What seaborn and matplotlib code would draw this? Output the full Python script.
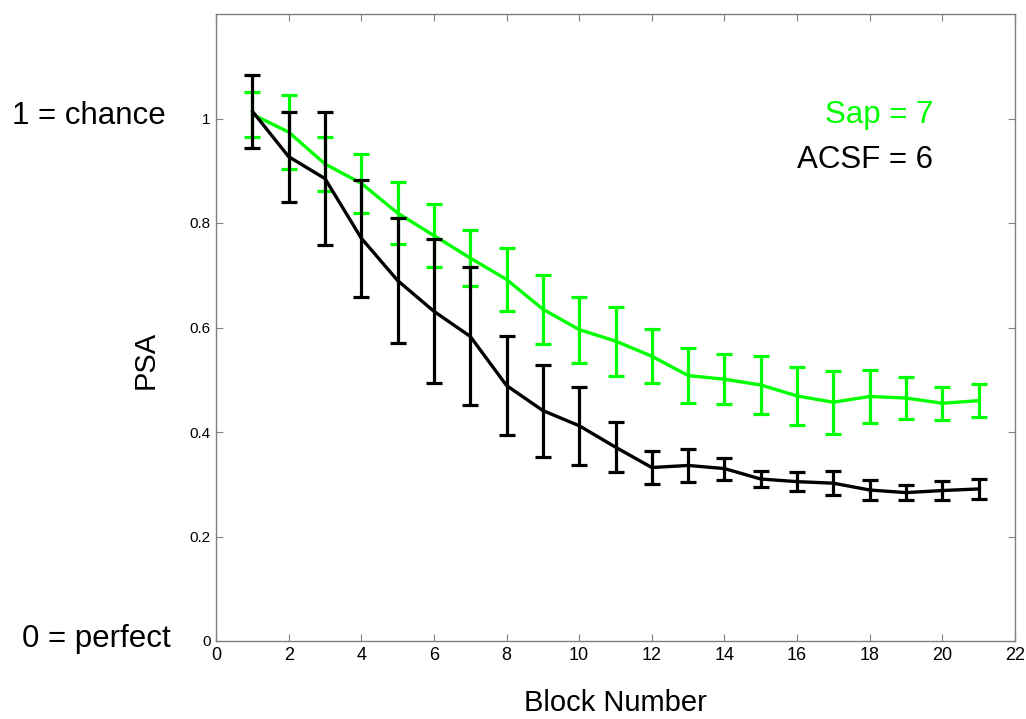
import matplotlib
matplotlib.use("Agg")
import matplotlib.pyplot as plt
import seaborn as sns
import numpy as np
import pandas as pd

# Block-by-block PSA (mean and SEM) for each group
blocks = list(range(1, 22))

sap_mean = [1.008, 0.974, 0.913, 0.876, 0.819, 0.776, 0.733, 0.692, 0.635, 0.596,
            0.574, 0.545, 0.508, 0.501, 0.490, 0.469, 0.457, 0.468, 0.465, 0.455, 0.460]
sap_sem = [0.043, 0.071, 0.051, 0.057, 0.060, 0.060, 0.054, 0.060, 0.066, 0.063,
           0.066, 0.052, 0.052, 0.048, 0.056, 0.055, 0.060, 0.051, 0.041, 0.032, 0.032]

acsf_mean = [1.014, 0.927, 0.885, 0.771, 0.690, 0.631, 0.583, 0.489, 0.441, 0.412,
             0.371, 0.332, 0.336, 0.330, 0.310, 0.305, 0.302, 0.289, 0.284, 0.288, 0.291]
acsf_sem = [0.070, 0.086, 0.128, 0.112, 0.119, 0.138, 0.132, 0.095, 0.088, 0.075,
            0.048, 0.031, 0.032, 0.021, 0.016, 0.018, 0.023, 0.020, 0.015, 0.019, 0.020]

group_labels = ["Sap = 7", "ACSF = 6"]
x_ticks = list(range(0, 23, 2))
y_ticks = [0, 0.2, 0.4, 0.6, 0.8, 1]

GREEN = "#00ff00"
BLACK = "#000000"

sns.set_theme(style="white")
plt.rcParams["font.family"] = ["Liberation Sans", "DejaVu Sans"]
plt.rcParams["text.color"] = "black"
plt.rcParams["axes.labelcolor"] = "black"
plt.rcParams["xtick.color"] = "black"
plt.rcParams["ytick.color"] = "black"

fig = plt.figure(figsize=(10.26, 7.19), dpi=100)
ax = fig.add_axes([216 / 1026, 78 / 719, 799 / 1026, 627 / 719])

df = pd.DataFrame({
    "block": blocks * 2,
    "psa": sap_mean + acsf_mean,
    "sem": sap_sem + acsf_sem,
    "group": ["Sap"] * len(blocks) + ["ACSF"] * len(blocks),
})

for grp, color, z in [("Sap", GREEN, 2), ("ACSF", BLACK, 3)]:
    d = df[df["group"] == grp]
    ax.errorbar(d["block"], d["psa"], yerr=d["sem"], fmt="none", ecolor=color,
                elinewidth=2.3, capsize=5.5, capthick=2.3, zorder=z)
    sns.lineplot(data=d, x="block", y="psa", color=color, linewidth=2.4,
                 ax=ax, zorder=z, legend=False)

ax.set_xlim(0, 22)
ax.set_ylim(0, 1.2)
ax.set_xticks(x_ticks)
ax.set_xticklabels([str(t) for t in x_ticks], fontsize=13)
ax.set_yticks(y_ticks)
ax.set_yticklabels(["0", "0.2", "0.4", "0.6", "0.8", "1"], fontsize=11)

ax.tick_params(direction="in", length=5, width=0.8, color="#808080",
               labelcolor="black", top=True, right=True, bottom=True, left=True, pad=4)
for side in ["top", "right", "bottom", "left"]:
    ax.spines[side].set_color("#808080")
    ax.spines[side].set_linewidth(1.0)

ax.set_xlabel("Block Number", fontsize=21, color="black")
ax.set_ylabel("PSA", fontsize=21, color="black")
ax.xaxis.set_label_coords(0.5, -0.077)
ax.yaxis.set_label_coords(-0.071, 0.448)

ax.text(19.75, 1.006, group_labels[0], color=GREEN, fontsize=22.5, ha="right", va="center")
ax.text(19.75, 0.920, group_labels[1], color=BLACK, fontsize=22.5, ha="right", va="center")

fig.text(12 / 1026, 1 - 116 / 719, "1 = chance", fontsize=22.5, ha="left", va="center",
         color="black")
fig.text(22 / 1026, 1 - 639 / 719, "0 = perfect", fontsize=22.5, ha="left", va="center",
         color="black")

fig.savefig("out.png", dpi=100, facecolor="white")
